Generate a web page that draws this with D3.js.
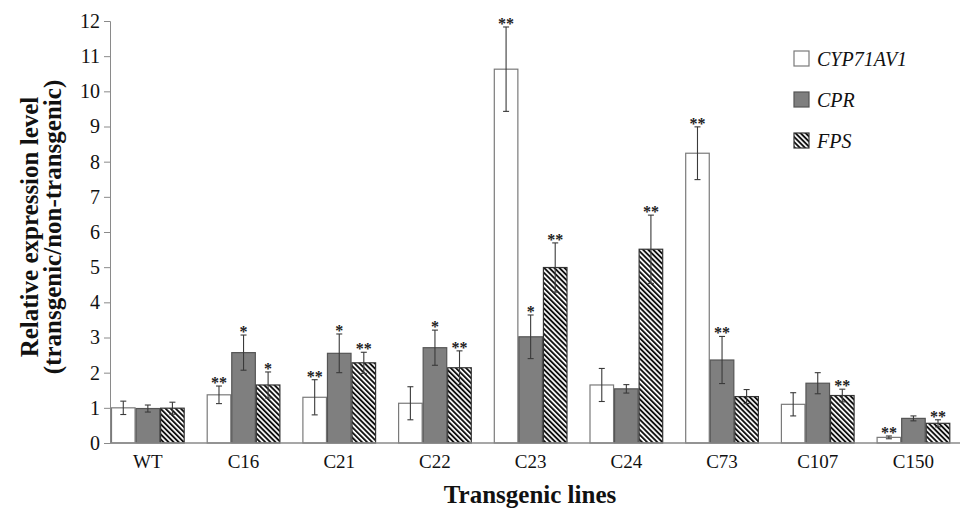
<!DOCTYPE html>
<html>
<head>
<meta charset="utf-8">
<script src="https://cdn.jsdelivr.net/npm/d3@7"></script>
<style>
  body { margin: 0; background: #fff; }
  svg { display: block; }
</style>
</head>
<body>
<svg id="chart" width="962" height="510"></svg>
<script>
// values
var categories = ["WT", "C16", "C21", "C22", "C23", "C24", "C73", "C107", "C150"];
var seriesNames = ["CYP71AV1", "CPR", "FPS"];

var cypValues = [1.0, 1.37, 1.3, 1.13, 10.63, 1.65, 8.24, 1.1, 0.16];
var cypErrors = [0.19, 0.25, 0.5, 0.47, 1.2, 0.47, 0.75, 0.33, 0.04];
var cypStars = ["", "**", "**", "", "**", "", "**", "", "**"];

var cprValues = [0.98, 2.57, 2.55, 2.71, 3.02, 1.54, 2.36, 1.7, 0.7];
var cprErrors = [0.1, 0.5, 0.55, 0.5, 0.62, 0.12, 0.67, 0.3, 0.07];
var cprStars = ["", "*", "*", "*", "*", "", "**", "", ""];

var fpsValues = [0.99, 1.65, 2.28, 2.14, 4.99, 5.51, 1.32, 1.35, 0.56];
var fpsErrors = [0.17, 0.37, 0.3, 0.48, 0.7, 0.97, 0.2, 0.18, 0.1];
var fpsStars = ["", "*", "**", "**", "**", "**", "", "**", "**"];

var yTicks = [0, 1, 2, 3, 4, 5, 6, 7, 8, 9, 10, 11, 12];

var svg = d3.select("#chart");
var serif = "'Liberation Serif', 'Times New Roman', serif";
var axisColor = "#8a8a8a";

// striped fill for FPS
var defs = svg.append("defs");
var pat = defs.append("pattern")
    .attr("id", "stripes")
    .attr("patternUnits", "userSpaceOnUse")
    .attr("width", 3.6)
    .attr("height", 3.6)
    .attr("patternTransform", "rotate(-45)");
pat.append("rect").attr("width", 3.6).attr("height", 3.6).attr("fill", "#fff");
pat.append("rect").attr("width", 1.9).attr("height", 3.6).attr("fill", "#111");

var fills = { "CYP71AV1": "#ffffff", "CPR": "#7f7f7f", "FPS": "url(#stripes)" };
var strokes = { "CYP71AV1": "#7a7a7a", "CPR": "#555555", "FPS": "#333333" };

// build rows for drawing
var rows = [];
categories.forEach(function (c, i) {
    rows.push({ cat: c, s: "CYP71AV1", v: cypValues[i], e: cypErrors[i], star: cypStars[i] });
    rows.push({ cat: c, s: "CPR", v: cprValues[i], e: cprErrors[i], star: cprStars[i] });
    rows.push({ cat: c, s: "FPS", v: fpsValues[i], e: fpsErrors[i], star: fpsStars[i] });
});

var x0 = d3.scaleBand()
    .domain(categories)
    .range([111, 111 + 95.7 * (categories.length - 0.23)])
    .paddingInner(0.23)
    .paddingOuter(0);
var x1 = d3.scaleBand()
    .domain(seriesNames)
    .range([0, x0.bandwidth()])
    .padding(0);
var y = d3.scaleLinear().domain([0, 12]).range([443, 21]);

// y axis
var yAxis = svg.append("g")
    .attr("transform", "translate(110,0)")
    .call(d3.axisLeft(y).tickValues(yTicks).tickSize(6).tickPadding(4).tickFormat(d3.format("d")));
yAxis.select(".domain").attr("stroke", axisColor);
yAxis.selectAll(".tick line").attr("stroke", axisColor);
yAxis.selectAll(".tick text")
    .attr("fill", "#111")
    .style("font-family", serif)
    .style("font-size", "20px");

// bars
svg.append("g").selectAll("rect")
    .data(rows)
    .enter()
    .append("rect")
    .attr("x", function (d) { return x0(d.cat) + x1(d.s) + 0.5; })
    .attr("y", function (d) { return y(d.v); })
    .attr("width", x1.bandwidth() - 1)
    .attr("height", function (d) { return y(0) - y(d.v); })
    .attr("fill", function (d) { return fills[d.s]; })
    .attr("stroke", function (d) { return strokes[d.s]; })
    .attr("stroke-width", 1.2);

// error bars
var err = svg.append("g").attr("stroke", "#3a3a3a").attr("stroke-width", 1.1);
rows.forEach(function (d) {
    var cx = x0(d.cat) + x1(d.s) + x1.bandwidth() / 2;
    var top = y(d.v + d.e), bot = y(Math.max(0, d.v - d.e));
    err.append("line").attr("x1", cx).attr("x2", cx).attr("y1", top).attr("y2", bot);
    err.append("line").attr("x1", cx - 3).attr("x2", cx + 3).attr("y1", top).attr("y2", top);
    err.append("line").attr("x1", cx - 3).attr("x2", cx + 3).attr("y1", bot).attr("y2", bot);
});

// significance marks
svg.append("g").selectAll("text")
    .data(rows.filter(function (d) { return d.star; }))
    .enter()
    .append("text")
    .attr("x", function (d) { return x0(d.cat) + x1(d.s) + x1.bandwidth() / 2; })
    .attr("y", function (d) { return y(d.v + d.e) + 2; })
    .attr("text-anchor", "middle")
    .style("font-family", serif)
    .style("font-weight", "bold")
    .style("font-size", "16px")
    .attr("fill", "#222")
    .text(function (d) { return d.star; });

// x axis line
svg.append("line")
    .attr("x1", 110).attr("x2", 960)
    .attr("y1", y(0)).attr("y2", y(0))
    .attr("stroke", axisColor)
    .attr("stroke-width", 1.5);

// category labels
svg.append("g").selectAll("text")
    .data(categories)
    .enter()
    .append("text")
    .attr("x", function (d) { return x0(d) + x0.bandwidth() / 2; })
    .attr("y", 468)
    .attr("text-anchor", "middle")
    .style("font-family", serif)
    .style("font-size", "19px")
    .attr("fill", "#111")
    .text(function (d) { return d; });

// axis titles
svg.append("text")
    .attr("x", 530).attr("y", 503)
    .attr("text-anchor", "middle")
    .style("font-family", serif)
    .style("font-weight", "bold")
    .style("font-size", "25px")
    .attr("fill", "#111")
    .text("Transgenic lines");

var yTitle = svg.append("g").attr("transform", "translate(0,227) rotate(-90)");
yTitle.append("text")
    .attr("x", 0).attr("y", 38)
    .attr("text-anchor", "middle")
    .style("font-family", serif)
    .style("font-weight", "bold")
    .style("font-size", "25px")
    .attr("fill", "#111")
    .text("Relative expression level");
yTitle.append("text")
    .attr("x", 0).attr("y", 61)
    .attr("text-anchor", "middle")
    .style("font-family", serif)
    .style("font-weight", "bold")
    .style("font-size", "25px")
    .attr("fill", "#111")
    .text("(transgenic/non-transgenic)");

// legend
var legend = svg.append("g").selectAll("g")
    .data(seriesNames)
    .enter()
    .append("g")
    .attr("transform", function (d, i) { return "translate(794," + (51 + i * 41) + ")"; });
legend.append("rect")
    .attr("width", 15).attr("height", 15)
    .attr("fill", function (d) { return fills[d]; })
    .attr("stroke", function (d) { return strokes[d]; })
    .attr("stroke-width", 1.2);
legend.append("text")
    .attr("x", 23).attr("y", 15)
    .style("font-family", serif)
    .style("font-style", "italic")
    .style("font-size", "20px")
    .attr("fill", "#111")
    .text(function (d) { return d; });
</script>
</body>
</html>
